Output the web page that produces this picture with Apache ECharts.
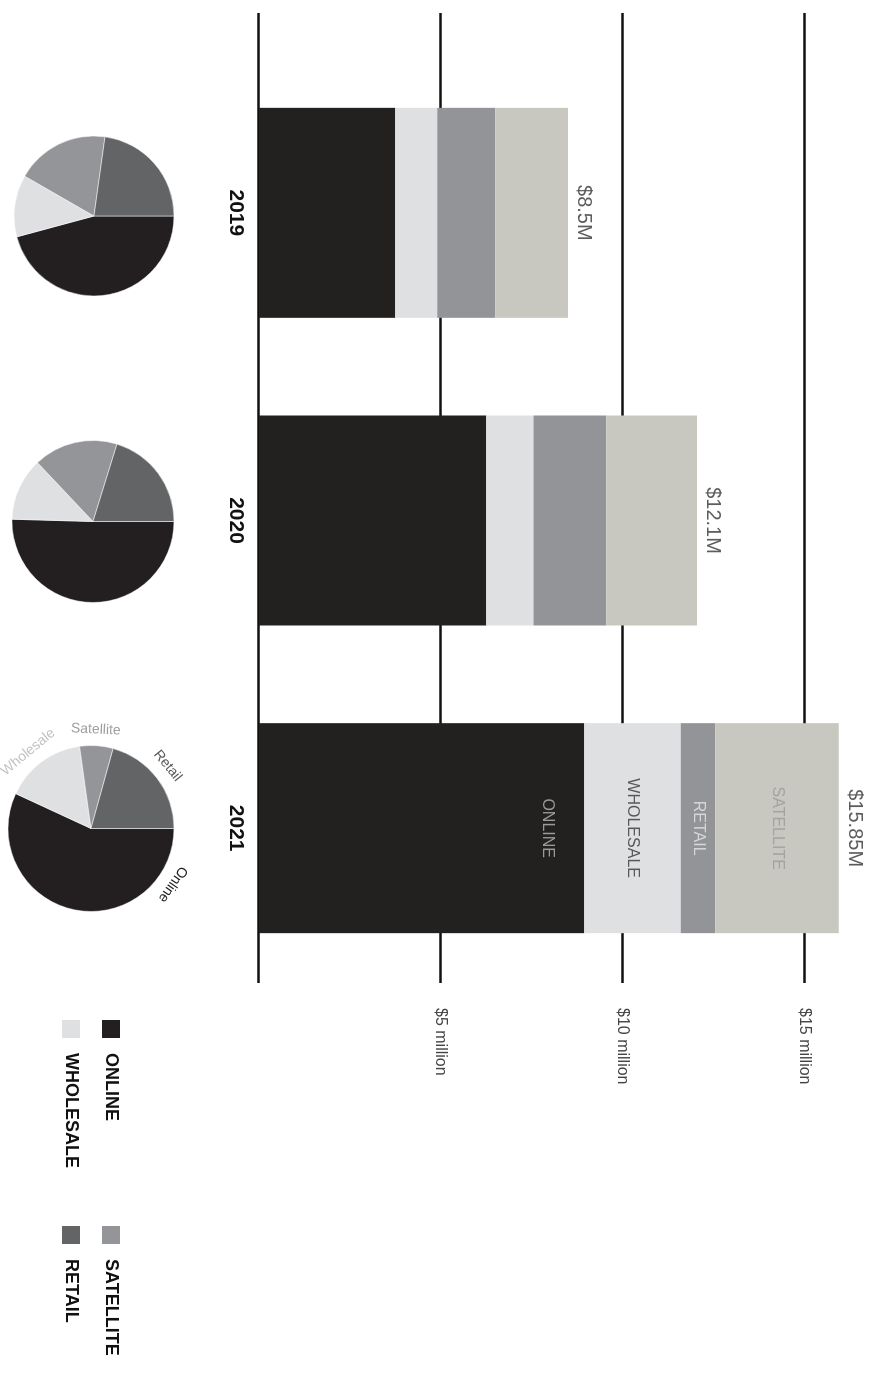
<!DOCTYPE html>
<html>
<head>
<meta charset="utf-8">
<script src="https://cdn.jsdelivr.net/npm/echarts@6/dist/echarts.min.js"></script>
<style>
html,body{margin:0;padding:0;overflow:hidden;width:882px;height:1385px;background:#ffffff;}
#chart{position:absolute;left:0;top:0;width:1385px;height:882px;transform-origin:0 0;transform:translate(882px,0) rotate(90deg);}
</style>
</head>
<body>
<div id="chart"></div>
<script>
// ---- data ----
const categories = ['2019', '2020', '2021'];
const onlineVals = [3.75, 6.25, 8.95];
const wholesaleVals = [1.15, 1.3, 2.65];
const retailVals = [1.6, 2.0, 0.95];      // mid-grey segment (labelled RETAIL)
const satelliteVals = [2.0, 2.5, 3.4];    // beige segment (labelled SATELLITE)
const totalLabels = ['$8.5M', '$12.1M', '$15.85M'];
const segmentNames = ['ONLINE', 'WHOLESALE', 'RETAIL', 'SATELLITE'];
const valueTicks = [5, 10, 15];
const pieNames = ['Online', 'Wholesale', 'Satellite', 'Retail'];
const pie2019 = [45.8, 12.5, 18.9, 22.8];
const pie2020 = [50.4, 12.5, 16.8, 20.2];
const pie2021 = [56.9, 15.9, 6.5, 20.7];

// ---- styles ----
const FONT = '"Liberation Sans", Arial, Helvetica, sans-serif';
const barColors = ['#222120', '#dfe0e2', '#939498', '#c8c8c0'];
const segLabelColors = ['#9a9a9a', '#58595b', '#d6d6d6', '#a3a3a0'];
const pieColors = ['#231f20', '#dfe0e2', '#949599', '#636466'];
const pieLabelColors = ['#231f20', '#c2c3c5', '#9d9ea1', '#58595b'];
const labelledIndex = 2;
const pieLayout = [
  {center: [216, 788], radius: 80},
  {center: [521.5, 789], radius: 81},
  {center: [828.5, 791], radius: 83}
];
const pieLabelShift = [68, 3, 1, 2];

const chart = echarts.init(document.getElementById('chart'), null, {width: 1385, height: 882, renderer: 'canvas'});

const barSeriesVals = [onlineVals, wholesaleVals, retailVals, satelliteVals];
const barSeries = barSeriesVals.map((vals, s) => ({
  type: 'bar',
  name: segmentNames[s],
  stack: 'total',
  xAxisIndex: 1,
  yAxisIndex: 1,
  barWidth: 210,
  itemStyle: {color: barColors[s]},
  emphasis: {disabled: true},
  data: vals.map((v, i) => i === labelledIndex ? {
    value: v,
    label: {
      show: true,
      position: s === 0 ? 'insideTop' : 'inside',
      distance: s === 0 ? 29 : 5,
      formatter: segmentNames[s],
      color: segLabelColors[s],
      fontSize: 16,
      fontFamily: FONT
    }
  } : v)
}));

const totals = categories.map((c, i) => onlineVals[i] + wholesaleVals[i] + retailVals[i] + satelliteVals[i]);

function pieSeries(vals, k, withLabels) {
  const total = vals.reduce((a, b) => a + b, 0);
  const lay = pieLayout[k];
  return {
    type: 'pie',
    name: 'pie' + categories[k],
    center: lay.center,
    radius: lay.radius,
    startAngle: 90,
    clockwise: true,
    avoidLabelOverlap: false,
    emphasis: {disabled: true},
    itemStyle: {borderColor: '#ffffff', borderWidth: 0.5},
    label: withLabels ? {
      show: true,
      position: 'outside',
      fontSize: 14,
      fontFamily: FONT,
      formatter: '{b}'
    } : {show: false},
    labelLine: {show: false},
    labelLayout: withLabels ? function (p) {
      const i = p.dataIndex;
      let cum = 0;
      for (let j = 0; j < i; j++) cum += vals[j];
      const mid = 90 - 360 * (cum + vals[i] / 2) / total + pieLabelShift[i];
      const rad = mid * Math.PI / 180;
      const R = lay.radius + 16;
      return {
        x: lay.center[0] + R * Math.cos(rad),
        y: lay.center[1] - R * Math.sin(rad),
        rotate: mid - 90,
        align: 'center',
        verticalAlign: 'middle'
      };
    } : undefined,
    data: vals.map((v, i) => ({
      name: pieNames[i],
      value: v,
      itemStyle: {color: pieColors[i]},
      label: {color: pieLabelColors[i]}
    }))
  };
}

const legendCommon = {
  orient: 'vertical',
  top: 760,
  padding: 0,
  itemWidth: 20,
  itemHeight: 20,
  itemGap: 18,
  icon: 'rect',
  selectedMode: false,
  formatter: n => n.toUpperCase(),
  textStyle: {fontSize: 18, fontWeight: 'bold', color: '#111111', fontFamily: FONT, padding: [0, 0, 0, 9]}
};

const option = {
  backgroundColor: '#ffffff',
  animation: false,
  textStyle: {fontFamily: FONT},
  legend: [
    Object.assign({}, legendCommon, {left: 1018, data: [pieNames[0], pieNames[1]]}),
    Object.assign({}, legendCommon, {left: 1224, data: [pieNames[2], pieNames[3]]})
  ],
  grid: [
    {left: 13, right: 402, top: 5, bottom: 259},
    {left: 59, width: 923, top: 5, bottom: 259}
  ],
  xAxis: [
    {gridIndex: 0, type: 'category', data: categories, show: false},
    {
      gridIndex: 1, type: 'category', data: categories,
      axisLine: {show: false}, axisTick: {show: false},
      axisLabel: {margin: 13, fontSize: 21, fontWeight: 'bold', color: '#111111', fontFamily: FONT}
    }
  ],
  yAxis: [
    {
      gridIndex: 0, type: 'value', min: 0, max: 17, interval: 5, position: 'right',
      axisLine: {show: false}, axisTick: {show: false},
      splitLine: {show: true, showMinLine: true, showMaxLine: false, lineStyle: {color: '#111111', width: 2.5}},
      axisLabel: {
        showMinLabel: false, showMaxLabel: false, margin: 25,
        formatter: v => valueTicks.indexOf(v) >= 0 ? '$' + v + ' million' : '',
        color: '#444444', fontSize: 16, fontFamily: FONT
      }
    },
    {gridIndex: 1, type: 'value', min: 0, max: 17, interval: 5, show: false, splitLine: {show: false}}
  ],
  series: barSeries.concat([
    {
      type: 'scatter',
      name: 'totals',
      xAxisIndex: 1,
      yAxisIndex: 1,
      symbolSize: 1,
      itemStyle: {color: 'rgba(0,0,0,0)'},
      emphasis: {disabled: true},
      label: {
        show: true, position: 'top', distance: 5,
        formatter: p => totalLabels[p.dataIndex],
        fontSize: 20, color: '#333333', fontFamily: FONT
      },
      data: totals
    },
    pieSeries(pie2019, 0, false),
    pieSeries(pie2020, 1, false),
    pieSeries(pie2021, 2, true)
  ])
};
chart.setOption(option);
</script>
</body>
</html>
